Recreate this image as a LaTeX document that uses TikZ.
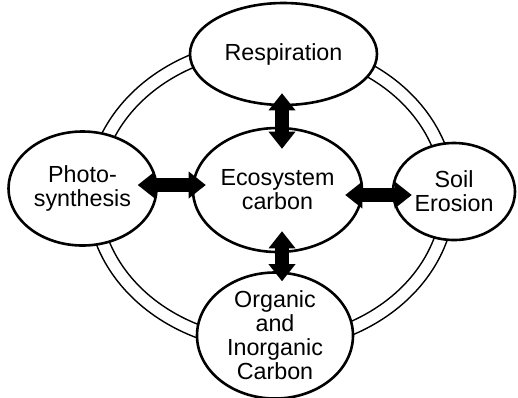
\documentclass[tikz,border=0pt]{standalone}
\usepackage{fontspec}
\setmainfont{Liberation Sans}
\usetikzlibrary{shapes.geometric,arrows.meta}

\begin{document}
\begin{tikzpicture}[x=1pt,y=-1pt,
pool/.style={ellipse,draw,line width=2.6pt,fill=white,inner sep=0pt,align=center,font=\fontsize{23.3}{24}\selectfont},
flux/.style={line width=14pt,{Triangle[length=17pt,width=27pt,line width=0pt]}-{Triangle[length=17pt,width=27pt,line width=0pt]}}]
\useasboundingbox (0,0) rectangle (518,397);

%double ring round the pools
\draw[line width=1.4pt] (271,195) ellipse [x radius=184pt, y radius=156pt];
\draw[line width=1.4pt] (271,195) ellipse [x radius=171pt, y radius=143pt];

%carbon pools
\node[pool,minimum width=187pt,minimum height=102pt] (R) at (283.5,54) {Respiration};
\node[pool,minimum width=169pt,minimum height=124pt] (E) at (277.5,190) {Ecosystem\\carbon};
\node[pool,minimum width=148pt,minimum height=114pt] (P) at (82.5,188.5) {Photo-\\synthesis};
\node[pool,minimum width=122pt,minimum height=97pt] (S) at (454,191.5) {Soil\\Erosion};
\node[pool,minimum width=156pt,minimum height=117pt] (C) at (275,335.5) {Organic\\and\\Inorganic\\Carbon};

%fluxes
\draw[flux] ([xshift=4.5pt,yshift=-22pt]E.north) -- ([xshift=-1.5pt,yshift=13pt]R.south);
\draw[flux] ([xshift=4.5pt,yshift=22pt]E.south) -- ([xshift=7pt,yshift=-10pt]C.north);
\draw[flux] ([xshift=14pt,yshift=5pt]E.west) -- ([xshift=-20pt,yshift=3.5pt]P.east);
\draw[flux] ([xshift=-18pt,yshift=-5pt]E.east) -- ([xshift=20pt,yshift=-3.5pt]S.west);
\end{tikzpicture}
\end{document}
